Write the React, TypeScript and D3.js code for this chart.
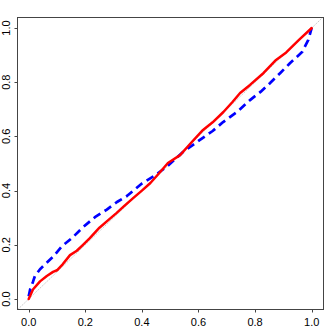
import React from "react";
import * as d3 from "d3";

const ticks = [0, 0.2, 0.4, 0.6, 0.8, 1.0];
const tickLabels = ["0.0", "0.2", "0.4", "0.6", "0.8", "1.0"];

const redX = [0, 0.015, 0.04, 0.064, 0.086, 0.1, 0.12, 0.146, 0.17, 0.19, 0.216, 0.25, 0.28, 0.31, 0.334, 0.37, 0.4, 0.43, 0.46, 0.492, 0.535, 0.57, 0.616, 0.65, 0.688, 0.72, 0.747, 0.782, 0.83, 0.874, 0.91, 0.955, 1.0];
const redY = [0, 0.035, 0.065, 0.085, 0.1, 0.106, 0.128, 0.162, 0.178, 0.198, 0.225, 0.263, 0.29, 0.317, 0.34, 0.373, 0.4, 0.428, 0.463, 0.502, 0.531, 0.572, 0.624, 0.652, 0.69, 0.727, 0.76, 0.79, 0.834, 0.882, 0.91, 0.956, 1.0];

const blueX = [0, 0.005, 0.015, 0.022, 0.04, 0.06, 0.086, 0.118, 0.153, 0.192, 0.234, 0.276, 0.312, 0.347, 0.4, 0.446, 0.49, 0.545, 0.605, 0.65, 0.687, 0.736, 0.782, 0.82, 0.853, 0.89, 0.923, 0.966, 0.988, 1.0];
const blueY = [0.01, 0.035, 0.063, 0.085, 0.11, 0.13, 0.156, 0.195, 0.225, 0.265, 0.302, 0.33, 0.358, 0.38, 0.426, 0.456, 0.49, 0.542, 0.587, 0.62, 0.653, 0.69, 0.734, 0.765, 0.797, 0.835, 0.87, 0.911, 0.956, 1.0];

export default function App() {
  const left = 17, right = 323, top = 17, bottom = 309;
  const x = d3.scaleLinear().domain([0, 1]).range([28.7, 311.7]);
  const y = d3.scaleLinear().domain([0, 1]).range([299, 28]);
  const line = d3
    .line<[number, number]>()
    .x((d) => x(d[0]))
    .y((d) => y(d[1]));
  const red = redX.map((v, i) => [v, redY[i]] as [number, number]);
  const blue = blueX.map((v, i) => [v, blueY[i]] as [number, number]);
  const x0 = x.invert(left), x1 = x.invert(right);
  const diag: [number, number][] = [
    [Math.max(x0, y.invert(bottom)), Math.max(x0, y.invert(bottom))],
    [Math.min(x1, y.invert(top)), Math.min(x1, y.invert(top))],
  ];
  const font = "'Liberation Sans', Arial, sans-serif";
  return (
    <svg
      width={332}
      height={332}
      style={{ position: "absolute", left: 0, top: 0, background: "#fff" }}
    >
      <defs>
        <clipPath id="plotclip">
          <rect x={left} y={top} width={right - left} height={bottom - top} />
        </clipPath>
      </defs>
      <g clipPath="url(#plotclip)">
        <path d={line(diag) || ""} stroke="#c8c8c8" strokeWidth={1} fill="none" strokeDasharray="1.5,1" />
        <path d={line(blue) || ""} stroke="#0000ff" strokeWidth={2.7} fill="none" strokeDasharray="8,5" strokeLinejoin="round" />
        <path d={line(red) || ""} stroke="#ff0000" strokeWidth={2.5} fill="none" strokeLinejoin="round" strokeLinecap="round" />
      </g>
      <rect x={left + 0.5} y={top + 0.5} width={right - left} height={bottom - top} fill="none" stroke="#444" strokeWidth={1} />
      {ticks.map((t, i) => (
        <g key={"x" + i}>
          <line x1={Math.round(x(t)) + 0.5} x2={Math.round(x(t)) + 0.5} y1={bottom + 0.5} y2={bottom + 3.5} stroke="#444" />
          <text x={x(t)} y={326} textAnchor="middle" fontFamily={font} fontSize={11} fill="#000">
            {tickLabels[i]}
          </text>
        </g>
      ))}
      {ticks.map((t, i) => (
        <g key={"y" + i}>
          <line x1={left + 0.5} x2={left - 2.5} y1={Math.round(y(t)) + 0.5} y2={Math.round(y(t)) + 0.5} stroke="#444" />
          <text
            transform={`translate(10.2,${y(t)}) rotate(-90)`}
            textAnchor="middle"
            fontFamily={font}
            fontSize={11}
            fill="#000"
          >
            {tickLabels[i]}
          </text>
        </g>
      ))}
    </svg>
  );
}
